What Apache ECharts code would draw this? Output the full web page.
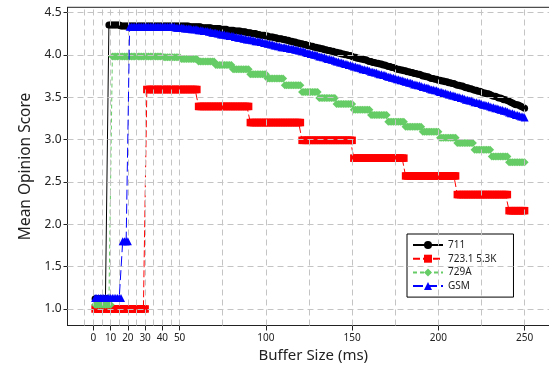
<!DOCTYPE html>
<html>
<head>
<meta charset="utf-8">
<script src="https://cdn.jsdelivr.net/npm/echarts@6/dist/echarts.min.js"></script>
<style>html,body{margin:0;padding:0;background:#fff;}#c{width:549px;height:369px;}</style>
</head>
<body>
<div id="c"></div>
<script>
const bufferMs = [1,2,3,4,5,6,7,8,9,10,11,12,13,14,15,16,17,18,19,20,21,22,23,24,25,26,27,28,29,30,31,32,33,34,35,36,37,38,39,40,41,42,43,44,45,46,47,48,49,50,51,52,53,54,55,56,57,58,59,60,61,62,63,64,65,66,67,68,69,70,71,72,73,74,75,76,77,78,79,80,81,82,83,84,85,86,87,88,89,90,91,92,93,94,95,96,97,98,99,100,101,102,103,104,105,106,107,108,109,110,111,112,113,114,115,116,117,118,119,120,121,122,123,124,125,126,127,128,129,130,131,132,133,134,135,136,137,138,139,140,141,142,143,144,145,146,147,148,149,150,151,152,153,154,155,156,157,158,159,160,161,162,163,164,165,166,167,168,169,170,171,172,173,174,175,176,177,178,179,180,181,182,183,184,185,186,187,188,189,190,191,192,193,194,195,196,197,198,199,200,201,202,203,204,205,206,207,208,209,210,211,212,213,214,215,216,217,218,219,220,221,222,223,224,225,226,227,228,229,230,231,232,233,234,235,236,237,238,239,240,241,242,243,244,245,246,247,248,249,250];

const mos711 = [
1.12,1.12,1.12,1.12,1.12,1.12,1.12,1.12,4.35,4.35,
4.35,4.35,4.35,4.35,4.35,4.34,4.34,4.34,4.34,4.34,
4.34,4.34,4.34,4.34,4.34,4.34,4.34,4.34,4.34,4.34,
4.34,4.34,4.34,4.34,4.34,4.34,4.34,4.34,4.34,4.34,
4.34,4.34,4.34,4.34,4.34,4.34,4.34,4.34,4.34,4.34,
4.34,4.34,4.34,4.34,4.34,4.33,4.33,4.33,4.33,4.33,
4.33,4.33,4.32,4.32,4.32,4.32,4.32,4.32,4.31,4.31,
4.31,4.31,4.31,4.30,4.30,4.30,4.30,4.29,4.29,4.29,
4.29,4.28,4.28,4.28,4.28,4.27,4.27,4.27,4.26,4.26,
4.26,4.25,4.25,4.25,4.24,4.24,4.23,4.23,4.23,4.22,
4.22,4.21,4.21,4.21,4.20,4.20,4.19,4.19,4.19,4.18,
4.18,4.17,4.17,4.16,4.16,4.15,4.15,4.14,4.14,4.13,
4.13,4.12,4.12,4.11,4.11,4.10,4.10,4.09,4.09,4.08,
4.08,4.07,4.07,4.06,4.06,4.05,4.05,4.04,4.04,4.03,
4.03,4.02,4.02,4.01,4.01,4.00,4.00,3.99,3.99,3.98,
3.97,3.97,3.96,3.96,3.95,3.95,3.94,3.94,3.93,3.92,
3.92,3.91,3.91,3.90,3.90,3.89,3.89,3.88,3.88,3.87,
3.86,3.86,3.85,3.85,3.84,3.83,3.83,3.82,3.82,3.81,
3.81,3.80,3.80,3.79,3.79,3.78,3.78,3.77,3.77,3.76,
3.75,3.75,3.74,3.74,3.73,3.72,3.72,3.71,3.71,3.70,
3.70,3.69,3.69,3.68,3.68,3.67,3.67,3.66,3.66,3.65,
3.64,3.64,3.63,3.63,3.62,3.61,3.61,3.60,3.60,3.59,
3.58,3.58,3.57,3.57,3.56,3.55,3.55,3.54,3.54,3.53,
3.52,3.51,3.51,3.50,3.49,3.49,3.48,3.47,3.47,3.46,
3.45,3.44,3.43,3.42,3.41,3.41,3.40,3.39,3.38,3.37];

const mos7231 = [
1.00,1.00,1.00,1.00,1.00,1.00,1.00,1.00,1.00,1.00,
1.00,1.00,1.00,1.00,1.00,1.00,1.00,1.00,1.00,1.00,
1.00,1.00,1.00,1.00,1.00,1.00,1.00,1.00,1.00,1.00,
3.59,3.59,3.59,3.59,3.59,3.59,3.59,3.59,3.59,3.59,
3.59,3.59,3.59,3.59,3.59,3.59,3.59,3.59,3.59,3.59,
3.59,3.59,3.59,3.59,3.59,3.59,3.59,3.59,3.59,3.59,
3.39,3.39,3.39,3.39,3.39,3.39,3.39,3.39,3.39,3.39,
3.39,3.39,3.39,3.39,3.39,3.39,3.39,3.39,3.39,3.39,
3.39,3.39,3.39,3.39,3.39,3.39,3.39,3.39,3.39,3.39,
3.20,3.20,3.20,3.20,3.20,3.20,3.20,3.20,3.20,3.20,
3.20,3.20,3.20,3.20,3.20,3.20,3.20,3.20,3.20,3.20,
3.20,3.20,3.20,3.20,3.20,3.20,3.20,3.20,3.20,3.20,
2.99,2.99,2.99,2.99,2.99,2.99,2.99,2.99,2.99,2.99,
2.99,2.99,2.99,2.99,2.99,2.99,2.99,2.99,2.99,2.99,
2.99,2.99,2.99,2.99,2.99,2.99,2.99,2.99,2.99,2.99,
2.78,2.78,2.78,2.78,2.78,2.78,2.78,2.78,2.78,2.78,
2.78,2.78,2.78,2.78,2.78,2.78,2.78,2.78,2.78,2.78,
2.78,2.78,2.78,2.78,2.78,2.78,2.78,2.78,2.78,2.78,
2.57,2.57,2.57,2.57,2.57,2.57,2.57,2.57,2.57,2.57,
2.57,2.57,2.57,2.57,2.57,2.57,2.57,2.57,2.57,2.57,
2.57,2.57,2.57,2.57,2.57,2.57,2.57,2.57,2.57,2.57,
2.35,2.35,2.35,2.35,2.35,2.35,2.35,2.35,2.35,2.35,
2.35,2.35,2.35,2.35,2.35,2.35,2.35,2.35,2.35,2.35,
2.35,2.35,2.35,2.35,2.35,2.35,2.35,2.35,2.35,2.35,
2.16,2.16,2.16,2.16,2.16,2.16,2.16,2.16,2.16,2.16];

const mos729a = [
1.05,1.05,1.05,1.05,1.05,1.05,1.05,1.05,1.05,1.05,
3.98,3.98,3.98,3.98,3.98,3.98,3.98,3.98,3.98,3.98,
3.98,3.98,3.98,3.98,3.98,3.98,3.98,3.98,3.98,3.98,
3.98,3.98,3.98,3.98,3.98,3.98,3.98,3.98,3.98,3.98,
3.97,3.97,3.97,3.97,3.97,3.97,3.97,3.97,3.97,3.97,
3.95,3.95,3.95,3.95,3.95,3.95,3.95,3.95,3.95,3.95,
3.92,3.92,3.92,3.92,3.92,3.92,3.92,3.92,3.92,3.92,
3.88,3.88,3.88,3.88,3.88,3.88,3.88,3.88,3.88,3.88,
3.83,3.83,3.83,3.83,3.83,3.83,3.83,3.83,3.83,3.83,
3.77,3.77,3.77,3.77,3.77,3.77,3.77,3.77,3.77,3.77,
3.72,3.72,3.72,3.72,3.72,3.72,3.72,3.72,3.72,3.72,
3.64,3.64,3.64,3.64,3.64,3.64,3.64,3.64,3.64,3.64,
3.56,3.56,3.56,3.56,3.56,3.56,3.56,3.56,3.56,3.56,
3.49,3.49,3.49,3.49,3.49,3.49,3.49,3.49,3.49,3.49,
3.42,3.42,3.42,3.42,3.42,3.42,3.42,3.42,3.42,3.42,
3.35,3.35,3.35,3.35,3.35,3.35,3.35,3.35,3.35,3.35,
3.29,3.29,3.29,3.29,3.29,3.29,3.29,3.29,3.29,3.29,
3.21,3.21,3.21,3.21,3.21,3.21,3.21,3.21,3.21,3.21,
3.15,3.15,3.15,3.15,3.15,3.15,3.15,3.15,3.15,3.15,
3.09,3.09,3.09,3.09,3.09,3.09,3.09,3.09,3.09,3.09,
3.02,3.02,3.02,3.02,3.02,3.02,3.02,3.02,3.02,3.02,
2.96,2.96,2.96,2.96,2.96,2.96,2.96,2.96,2.96,2.96,
2.88,2.88,2.88,2.88,2.88,2.88,2.88,2.88,2.88,2.88,
2.80,2.80,2.80,2.80,2.80,2.80,2.80,2.80,2.80,2.80,
2.73,2.73,2.73,2.73,2.73,2.73,2.73,2.73,2.73,2.73];

const mosGsm = [
1.13,1.13,1.13,1.13,1.13,1.13,1.13,1.13,1.13,1.13,
1.13,1.13,1.13,1.13,1.13,1.13,1.80,1.80,1.80,1.80,
4.33,4.33,4.33,4.33,4.33,4.33,4.33,4.33,4.33,4.33,
4.33,4.33,4.33,4.33,4.33,4.33,4.33,4.33,4.33,4.33,
4.33,4.33,4.33,4.33,4.33,4.33,4.33,4.32,4.32,4.32,
4.32,4.32,4.31,4.31,4.31,4.31,4.30,4.30,4.30,4.30,
4.29,4.29,4.29,4.28,4.28,4.28,4.27,4.27,4.26,4.26,
4.26,4.25,4.25,4.24,4.24,4.24,4.23,4.23,4.22,4.22,
4.22,4.21,4.21,4.20,4.20,4.20,4.19,4.19,4.18,4.18,
4.18,4.17,4.17,4.16,4.16,4.16,4.15,4.15,4.14,4.14,
4.13,4.13,4.12,4.12,4.11,4.11,4.10,4.10,4.09,4.09,
4.09,4.08,4.08,4.07,4.07,4.07,4.06,4.06,4.05,4.05,
4.04,4.04,4.03,4.02,4.02,4.01,4.01,4.00,4.00,3.99,
3.98,3.98,3.97,3.97,3.96,3.95,3.95,3.94,3.94,3.93,
3.92,3.92,3.91,3.91,3.90,3.89,3.89,3.88,3.88,3.87,
3.86,3.86,3.85,3.85,3.84,3.83,3.83,3.82,3.82,3.81,
3.80,3.80,3.79,3.79,3.78,3.77,3.77,3.76,3.76,3.75,
3.74,3.74,3.73,3.73,3.72,3.71,3.71,3.70,3.70,3.69,
3.68,3.68,3.67,3.67,3.66,3.65,3.65,3.64,3.64,3.63,
3.62,3.62,3.61,3.61,3.60,3.59,3.59,3.58,3.58,3.57,
3.56,3.56,3.55,3.55,3.54,3.53,3.53,3.52,3.52,3.51,
3.50,3.50,3.49,3.49,3.48,3.47,3.47,3.46,3.46,3.45,
3.44,3.44,3.43,3.43,3.42,3.41,3.41,3.40,3.40,3.39,
3.38,3.38,3.37,3.37,3.36,3.35,3.35,3.34,3.34,3.33,
3.32,3.31,3.31,3.30,3.29,3.29,3.28,3.27,3.27,3.26];

const seriesNames = ['711', '723.1 5.3K', '729A', 'GSM'];
const xTickValues = [0, 10, 20, 30, 40, 50, 100, 150, 200, 250];
const yTickValues = [1.0, 1.5, 2.0, 2.5, 3.0, 3.5, 4.0, 4.5];
const xGridValues = [-5, 0, 5, 10, 15, 20, 25, 30, 35, 40, 45, 50, 75, 100, 125, 150, 175, 200, 225, 250];
const yGridValues = [1.0, 1.5, 2.0, 2.5, 3.0, 3.5, 4.0, 4.5];

const FONT = 'Noto Sans';
const pairs = arr => bufferMs.map((x, i) => [x, arr[i]]);

const chart = echarts.init(document.getElementById('c'), null, {renderer: 'canvas'});
const gridLine = {color: '#c4c4c4', width: 1, type: [6, 4]};

chart.setOption({
  animation: false,
  backgroundColor: '#fff',
  textStyle: {fontFamily: FONT},
  grid: {left: 67.5, top: 7.3, width: 491.6, height: 318.2, show: true, borderColor: '#222', borderWidth: 1,
    backgroundColor: 'transparent', containLabel: false, outerBoundsMode: 'none'},
  legend: {
    data: seriesNames,
    orient: 'vertical',
    left: 407, top: 234,
    backgroundColor: '#fff', borderColor: '#000', borderWidth: 1, borderRadius: 0,
    padding: [6, 17, 6, 5],
    itemWidth: 30, itemHeight: 10, itemGap: 3.7,
    textStyle: {fontFamily: FONT, fontSize: 10, color: '#222'}
  },
  xAxis: {
    type: 'value', min: -15, max: 270,
    name: 'Buffer Size (ms)', nameLocation: 'middle', nameGap: 22,
    nameTextStyle: {fontFamily: FONT, fontSize: 15, color: '#222'},
    axisLine: {show: true, onZero: false, lineStyle: {color: '#222', width: 1}},
    axisTick: {show: true, inside: false, length: 5, customValues: xTickValues, lineStyle: {color: '#222'}},
    axisLabel: {show: true, customValues: xTickValues, margin: 8, fontFamily: FONT, fontSize: 10, color: '#222'},
    splitLine: {show: false}
  },
  yAxis: {
    type: 'value', min: 0.805, max: 4.56,
    name: 'Mean Opinion Score', nameLocation: 'middle', nameGap: 34,
    nameTextStyle: {fontFamily: FONT, fontSize: 15.5, color: '#222'},
    axisLine: {show: true, onZero: false, lineStyle: {color: '#222', width: 1}},
    axisTick: {show: true, inside: false, length: 4, customValues: yTickValues, lineStyle: {color: '#222'}},
    axisLabel: {show: true, customValues: yTickValues, margin: 6, fontFamily: FONT, fontSize: 12, color: '#222',
      formatter: v => Number(v).toFixed(1)},
    splitLine: {show: false}
  },
  series: [
    {
      name: '__grid', type: 'line', data: [], z: 1, silent: true,
      markLine: {
        silent: true, symbol: ['none', 'none'], label: {show: false}, animation: false,
        lineStyle: gridLine,
        emphasis: {disabled: true},
        data: xGridValues.map(v => ({xAxis: v})).concat(yGridValues.map(v => ({yAxis: v})))
      }
    },
    {
      name: seriesNames[0], type: 'line', data: pairs(mos711), z: 2,
      symbol: 'circle', symbolSize: 7, showAllSymbol: true,
      itemStyle: {color: '#000000'}, lineStyle: {color: '#000000', width: 1}
    },
    {
      name: seriesNames[1], type: 'line', data: pairs(mos7231), z: 3,
      symbol: 'rect', symbolSize: 7.5, showAllSymbol: true,
      itemStyle: {color: '#ff0000'}, lineStyle: {color: '#ff0000', width: 1, type: [7, 3]}
    },
    {
      name: seriesNames[2], type: 'line', data: pairs(mos729a), z: 4,
      symbol: 'diamond', symbolSize: 8, showAllSymbol: true,
      itemStyle: {color: '#66cc66'}, lineStyle: {color: '#66cc66', width: 1, type: [4, 3]}
    },
    {
      name: seriesNames[3], type: 'line', data: pairs(mosGsm), z: 5,
      symbol: 'triangle', symbolSize: 8, showAllSymbol: true,
      itemStyle: {color: '#0000ff'}, lineStyle: {color: '#0000ff', width: 1, type: [10, 4]}
    }
  ]
});
</script>
</body>
</html>
